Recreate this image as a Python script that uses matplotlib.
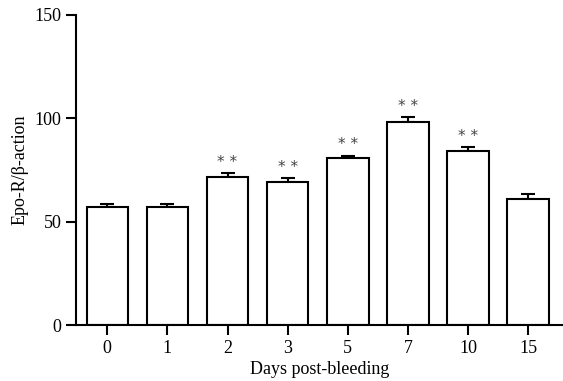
import matplotlib
matplotlib.use("Agg")
import matplotlib.pyplot as plt
import numpy as np

days = ["0", "1", "2", "3", "5", "7", "10", "15"]
means = [57.0, 57.0, 71.6, 69.3, 80.6, 98.1, 84.2, 60.8]
errs = [1.6, 1.6, 1.8, 1.6, 1.4, 2.5, 1.9, 2.6]
stars = ["", "", "**", "**", "**", "**", "**", ""]

plt.rcParams['font.family'] = ['Liberation Serif', 'DejaVu Serif']
plt.rcParams['font.size'] = 13

fig = plt.figure(figsize=(5.63, 3.81), dpi=100)
ax = fig.add_axes([76/563, 1 - 325/381, (563 - 76)/563, 310/381])

x = np.arange(len(days))
ax.bar(x, means, width=0.69, color='white', edgecolor='black', linewidth=1.5, zorder=2)
ax.errorbar(x, means, yerr=[np.zeros(len(errs)), errs], fmt='none', ecolor='black',
            elinewidth=1.5, capsize=5, capthick=1.5, zorder=1)
for xi, m, e, s in zip(x, means, errs, stars):
    if s:
        ax.text(xi, m + e + 1.5, " ".join(s), ha='center', va='bottom', fontsize=11,
                family='DejaVu Sans', color='#444444')

ax.set_xlim(-0.52, 7.58)
ax.set_ylim(0, 150)
ax.set_yticks([0, 50, 100, 150])
ax.set_xticks(x)
ax.set_xticklabels(days)
ax.spines['top'].set_visible(False)
ax.spines['right'].set_visible(False)
ax.spines['left'].set_linewidth(1.5)
ax.spines['bottom'].set_linewidth(1.5)
ax.tick_params(width=1.5, length=7)
ax.set_xlabel("Days post-bleeding", labelpad=3)
ax.set_ylabel("Epo-R/β-action", labelpad=4)

fig.savefig("out.png", dpi=100)
